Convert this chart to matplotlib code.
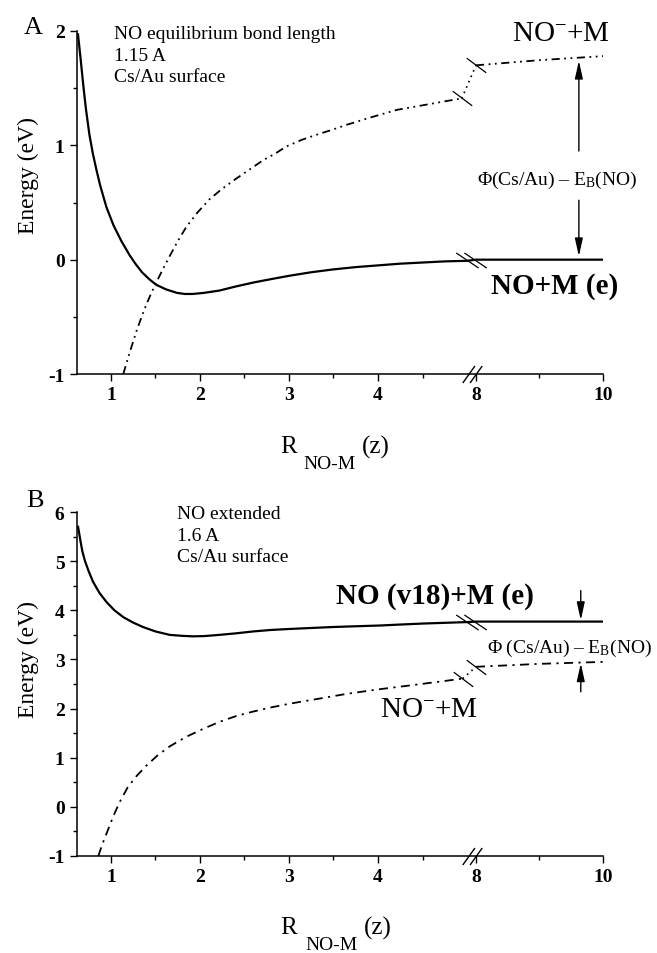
import numpy as np
import matplotlib
matplotlib.use("Agg")
import matplotlib.pyplot as plt
from matplotlib.path import Path

plt.rcParams['font.family'] = ['Liberation Serif', 'DejaVu Serif']
plt.rcParams['mathtext.fontset'] = 'custom'
plt.rcParams['mathtext.rm'] = 'Liberation Serif'
plt.rcParams['mathtext.it'] = 'Liberation Serif:italic'
plt.rcParams['mathtext.bf'] = 'Liberation Serif:bold'

# ---------------- data ----------------
# Panel A : NO equilibrium bond length
a_neutral_x_left = [0.63, 0.66, 0.69, 0.72, 0.76, 0.80, 0.84, 0.88, 0.95, 1.03, 1.12, 1.21, 1.28,
                    1.35, 1.43, 1.51, 1.62, 1.74, 1.83, 1.92, 2.05, 2.22, 2.40, 2.60, 2.80, 3.01,
                    3.25, 3.50, 3.75, 4.00, 4.25, 4.50, 4.75, 5.00]
a_neutral_y_left = [1.98, 1.76, 1.53, 1.32, 1.09, 0.92, 0.78, 0.65, 0.46, 0.30, 0.16, 0.04, -0.04,
                    -0.11, -0.17, -0.22, -0.26, -0.29, -0.30, -0.30, -0.29, -0.27, -0.235, -0.20,
                    -0.17, -0.14, -0.11, -0.085, -0.065, -0.05, -0.035, -0.025, -0.015, -0.01]
a_neutral_x_right = [8.0, 10.0]
a_neutral_y_right = [0.0, 0.0]

a_anion_x_left = [1.14, 1.20, 1.29, 1.35, 1.40, 1.45, 1.51, 1.58, 1.66, 1.75, 1.85, 1.97, 2.11,
                  2.25, 2.41, 2.56, 2.71, 2.85, 2.97, 3.15, 3.30, 3.50, 3.65, 3.90, 4.21, 4.50,
                  4.75, 4.94]
a_anion_y_left = [-1.00, -0.84, -0.62, -0.49, -0.39, -0.30, -0.20, -0.09, 0.03, 0.16, 0.29, 0.41,
                  0.53, 0.62, 0.71, 0.79, 0.87, 0.93, 0.99, 1.05, 1.09, 1.14, 1.18, 1.24, 1.31,
                  1.35, 1.385, 1.41]
a_anion_x_right = [8.0, 9.0, 10.0]
a_anion_y_right = [1.70, 1.745, 1.78]

# Panel B : NO extended
b_neutral_x_left = [0.63, 0.66, 0.68, 0.71, 0.75, 0.80, 0.87, 0.95, 1.04, 1.14, 1.25, 1.36, 1.50,
                    1.66, 1.80, 1.92, 2.05, 2.22, 2.40, 2.60, 2.80, 3.01, 3.25, 3.50, 3.75, 4.02,
                    4.25, 4.50, 4.75, 5.00]
b_neutral_y_left = [5.72, 5.40, 5.20, 5.00, 4.80, 4.58, 4.36, 4.17, 4.00, 3.86, 3.75, 3.66, 3.57,
                    3.50, 3.48, 3.47, 3.475, 3.50, 3.53, 3.57, 3.60, 3.62, 3.64, 3.66, 3.675, 3.69,
                    3.71, 3.73, 3.745, 3.76]
b_neutral_x_right = [8.0, 10.0]
b_neutral_y_right = [3.77, 3.77]

b_anion_x_left = [0.86, 0.90, 0.95, 1.03, 1.10, 1.19, 1.29, 1.40, 1.52, 1.66, 1.84, 2.04, 2.22,
                  2.41, 2.60, 2.79, 3.01, 3.30, 3.65, 4.00, 4.40, 4.70, 4.95]
b_anion_y_left = [-1.00, -0.78, -0.55, -0.18, 0.10, 0.40, 0.63, 0.84, 1.04, 1.23, 1.42, 1.59, 1.73,
                  1.85, 1.94, 2.02, 2.10, 2.19, 2.30, 2.39, 2.48, 2.55, 2.61]
b_anion_x_right = [8.0, 9.0, 10.0]
b_anion_y_right = [2.85, 2.91, 2.95]

x_major = [1, 2, 3, 4, 8, 10]
x_minor = [1.5, 2.5, 3.5, 4.5, 9]
a_yticks = [-1, 0, 1, 2]
b_yticks = [-1, 0, 1, 2, 3, 4, 5, 6]

# ---------------- broken x scale ----------------
def fwd(x):
    x = np.asarray(x, dtype=float)
    return np.where(x <= 5, x, np.where(x >= 8, 5.1 + (x - 8) * 0.713, 5 + (x - 5) * 0.1 / 3))

def inv(u):
    u = np.asarray(u, dtype=float)
    return np.where(u <= 5, u, np.where(u >= 5.1, 8 + (u - 5.1) / 0.713, 5 + (u - 5) * 30))

W, H = 657, 954
fig = plt.figure(figsize=(W / 100, H / 100), dpi=100)

def fx(px):
    return px / W

def fy(py):
    return 1 - py / H

axA = fig.add_axes([fx(77), fy(375), fx(603) - fx(77), fy(32) - fy(375)])
axB = fig.add_axes([fx(77), fy(857), fx(603) - fx(77), fy(513) - fy(857)])

# markers
axis_break = Path([(-0.8, -0.7), (0.2, 0.7), (-0.2, -0.7), (0.8, 0.7)],
                  [Path.MOVETO, Path.LINETO, Path.MOVETO, Path.LINETO])
double_back = Path([(-0.75, 0.37), (0.35, -0.37), (-0.35, 0.37), (0.75, -0.37)],
                   [Path.MOVETO, Path.LINETO, Path.MOVETO, Path.LINETO])
single_back = Path([(-0.6, 0.45), (0.6, -0.45)], [Path.MOVETO, Path.LINETO])

def setup(ax, yticks, ylim):
    ax.set_xscale('function', functions=(fwd, inv))
    ax.set_xlim(0.62, 10)
    ax.set_ylim(*ylim)
    ax.set_xticks(x_major)
    ax.set_xticklabels([str(v) for v in x_major])
    ax.set_xticks(x_minor, minor=True)
    ax.set_yticks(yticks)
    ax.set_yticklabels([str(v) for v in yticks])
    ax.set_yticks(np.arange(ylim[0], ylim[1] + 0.01, 0.5), minor=True)
    for s in ['top', 'right']:
        ax.spines[s].set_visible(False)
    for s in ['left', 'bottom']:
        ax.spines[s].set_linewidth(1.1)
    ax.tick_params(which='major', direction='out', length=5, width=1.0, labelsize=14, pad=4)
    ax.tick_params(which='minor', direction='out', length=3, width=1.0)
    for lab in ax.get_xticklabels() + ax.get_yticklabels():
        lab.set_fontweight('bold')
    # axis break mark
    ax.plot([inv(5.05)], [ylim[0]], marker=axis_break, ms=14, mew=1.0, mec='k',
            mfc='none', ls='none', clip_on=False, zorder=5)

def draw_curves(ax, nxl, nyl, nxr, nyr, axl, ayl, axr, ayr, dashes):
    ax.plot(nxl + nxr, nyl + nyr, color='k', lw=1.6, solid_capstyle='butt',
            solid_joinstyle='round')
    ymid = 0.5 * (nyl[-1] + nyr[0])
    ax.plot([inv(5.04)], [ymid], marker=double_back, ms=22, mew=0.9, mec='k',
            mfc='none', ls='none', zorder=5)
    ax.plot(axl, ayl, color='k', lw=1.3, dashes=dashes)
    ax.plot(axr, ayr, color='k', lw=1.3, dashes=dashes)
    ax.plot([axl[-1], axr[0]], [ayl[-1], ayr[0]], color='k', lw=1.2, dashes=(1, 2.5))
    ax.plot([axl[-1]], [ayl[-1]], marker=single_back, ms=14, mew=0.9, mec='k',
            mfc='none', ls='none', zorder=5)
    ax.plot([axr[0]], [ayr[0]], marker=single_back, ms=14, mew=0.9, mec='k',
            mfc='none', ls='none', zorder=5)

setup(axA, a_yticks, (-1, 2))
setup(axB, b_yticks, (-1, 6))

draw_curves(axA, a_neutral_x_left, a_neutral_y_left, a_neutral_x_right, a_neutral_y_right,
            a_anion_x_left, a_anion_y_left, a_anion_x_right, a_anion_y_right,
            dashes=(4.5, 2.5, 1, 2.5, 1, 2.5))
draw_curves(axB, b_neutral_x_left, b_neutral_y_left, b_neutral_x_right, b_neutral_y_right,
            b_anion_x_left, b_anion_y_left, b_anion_x_right, b_anion_y_right,
            dashes=(5, 3, 1.2, 3))

arrow = dict(arrowstyle='-|>,head_length=0.9,head_width=0.2', lw=1.0, color='k',
             shrinkA=0, shrinkB=0, mutation_scale=12)
# Panel A arrows
axA.annotate('', xy=(9.62, 1.74), xytext=(9.62, 0.95), arrowprops=arrow)
axA.annotate('', xy=(9.62, 0.03), xytext=(9.62, 0.52), arrowprops=arrow)
# Panel B arrows
axB.annotate('', xy=(9.65, 3.80), xytext=(9.65, 4.40), arrowprops=arrow)
axB.annotate('', xy=(9.65, 2.92), xytext=(9.65, 2.34), arrowprops=arrow)

# ---------------- texts ----------------
def t(px, py, s, **kw):
    fig.text(fx(px), fy(py), s, **kw)

# Panel A
t(33, 28, 'A', fontsize=19, ha='center', va='center')
t(114, 26, 'NO equilibrium bond length\n1.15 A\nCs/Au surface', fontsize=14,
  ha='left', va='top', linespacing=1.35)
t(561, 34, r'$\mathregular{NO^{-}{+}M}$', fontsize=21, ha='center', va='center')
t(555, 286, 'NO+M (e)', fontsize=21, fontweight='bold', ha='center', va='center')
t(557, 180, r'$\mathregular{Φ(Cs/Au)\ –\ E_B(NO)}$', fontsize=14, ha='center', va='center')
t(28, 176, 'Energy (eV)', fontsize=17, rotation=90, ha='center', va='center')
t(280, 447, 'R', fontsize=18, ha='left', va='center')
t(303, 465, 'NO-M', fontsize=14, ha='left', va='center')
t(362, 447, '(z)', fontsize=18, ha='left', va='center')

# Panel B
t(35, 501, 'B', fontsize=19, ha='center', va='center')
t(177, 506, 'NO extended\n1.6 A\nCs/Au surface', fontsize=14,
  ha='left', va='top', linespacing=1.35)
t(435, 597, 'NO (v18)+M (e)', fontsize=21, fontweight='bold', ha='center', va='center')
t(569, 648, r'$\mathregular{Φ\ (Cs/Au)\ –\ E_B(NO)}$', fontsize=14, ha='center', va='center')
t(429, 710, r'$\mathregular{NO^{-}{+}M}$', fontsize=21, ha='center', va='center')
t(28, 660, 'Energy (eV)', fontsize=17, rotation=90, ha='center', va='center')
t(280, 928, 'R', fontsize=18, ha='left', va='center')
t(305, 946, 'NO-M', fontsize=14, ha='left', va='center')
t(364, 928, '(z)', fontsize=18, ha='left', va='center')

fig.savefig('out.png', dpi=100)
